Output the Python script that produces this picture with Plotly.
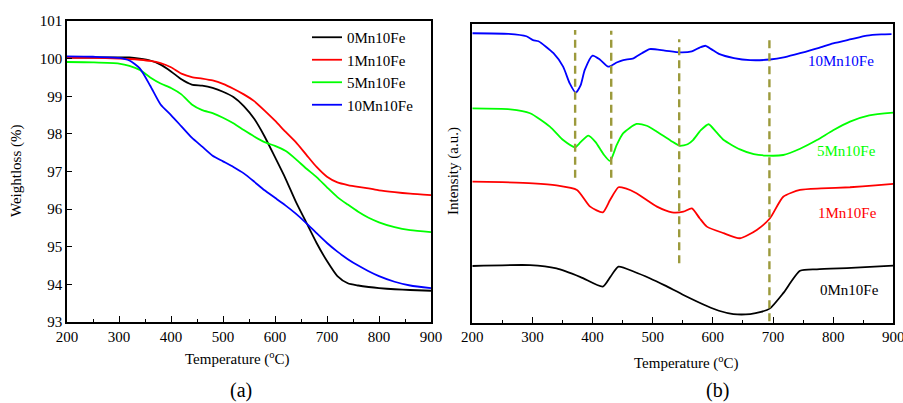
import plotly.graph_objects as go

# ---------------- (a) TG curves: weight (%) vs temperature ----------------
tg_temp = [200, 250, 300, 320, 340, 360, 380, 400, 420, 440, 460, 480, 500, 520, 540,
           560, 580, 600, 620, 640, 660, 680, 700, 720, 740, 760, 780, 800, 830, 860, 900]
tg_0mn = [100.03, 100.03, 100.03, 100.03, 100.0, 99.95, 99.84, 99.66, 99.45, 99.31, 99.28,
          99.22, 99.12, 98.98, 98.74, 98.4, 97.93, 97.38, 96.82, 96.2, 95.65, 95.1, 94.62,
          94.22, 94.03, 93.97, 93.93, 93.9, 93.87, 93.85, 93.83]
tg_1mn = [100.02, 100.02, 100.0, 99.99, 99.97, 99.94, 99.88, 99.77, 99.6, 99.51, 99.47,
          99.42, 99.33, 99.2, 99.05, 98.87, 98.62, 98.35, 98.06, 97.78, 97.45, 97.12, 96.86,
          96.71, 96.64, 96.59, 96.55, 96.5, 96.45, 96.41, 96.37]
tg_5mn = [99.91, 99.9, 99.87, 99.81, 99.7, 99.5, 99.34, 99.22, 99.05, 98.78, 98.63, 98.55,
          98.43, 98.28, 98.1, 97.93, 97.78, 97.68, 97.55, 97.33, 97.08, 96.85, 96.58, 96.32,
          96.12, 95.93, 95.77, 95.65, 95.52, 95.44, 95.39]
tg_10mn = [100.06, 100.05, 100.02, 99.95, 99.74, 99.28, 98.78, 98.5, 98.2, 97.9, 97.66,
           97.42, 97.27, 97.12, 96.95, 96.73, 96.5, 96.3, 96.1, 95.88, 95.63, 95.36, 95.1,
           94.87, 94.67, 94.5, 94.35, 94.22, 94.07, 93.97, 93.9]

# ---------------- (b) DTG-type curves, stacked (a.u.) ----------------
t_10mn = [200, 260, 290, 301, 310, 335, 351, 362, 372, 380, 387, 400, 412, 426, 440, 451,
          468, 482, 495, 520, 545, 565, 578, 588, 598, 610, 635, 662, 695, 720, 745, 775,
          800, 830, 856, 880, 897]
i_10mn = [97.0, 96.8, 96.0, 94.7, 94.3, 90.3, 85.8, 80.2, 77.1, 79.5, 84.7, 89.5, 88.2,
          85.8, 87.2, 88.0, 88.6, 90.3, 91.7, 91.2, 90.6, 90.9, 92.2, 92.8, 91.6, 90.1,
          88.7, 88.0, 88.2, 89.0, 90.3, 92.0, 93.6, 95.0, 96.2, 96.6, 96.7]

t_5mn = [200, 263, 296, 329, 351, 371, 380, 393, 405, 418, 429, 440, 451, 473, 490, 507,
         530, 545, 558, 567, 580, 593, 605, 618, 645, 668, 690, 717, 745, 773, 800, 828,
         860, 900]
i_5mn = [71.8, 71.5, 70.2, 65.7, 61.2, 58.8, 60.5, 62.7, 60.5, 56.5, 54.2, 59.5, 63.5,
         66.6, 66.0, 64.0, 61.0, 59.3, 59.8, 61.2, 64.5, 66.5, 64.0, 61.2, 58.1, 56.5,
         56.0, 56.2, 58.3, 61.2, 64.5, 67.4, 69.5, 70.4]

t_1mn = [200, 250, 301, 340, 374, 396, 417, 429, 443, 455, 473, 507, 532, 551, 565, 578,
         590, 618, 645, 673, 695, 717, 745, 780, 828, 870, 900]
i_1mn = [47.3, 47.1, 46.7, 46.0, 44.5, 38.9, 37.0, 41.1, 45.4, 45.0, 43.4, 38.9, 37.0,
         37.2, 38.3, 35.0, 32.2, 30.0, 28.3, 31.1, 35.0, 42.2, 44.5, 45.0, 45.4, 46.0, 46.5]

t_0mn = [200, 296, 340, 380, 417, 430, 443, 470, 495, 520, 551, 590, 610, 634, 662, 680,
         695, 717, 745, 773, 830, 900]
i_0mn = [19.0, 19.3, 18.2, 15.3, 12.1, 15.5, 18.8, 17.0, 14.9, 12.5, 9.3, 5.6, 4.0, 2.9,
         2.9, 3.6, 4.8, 9.9, 17.4, 17.9, 18.4, 19.1]

# characteristic temperatures marked with dashed guides, and their vertical extent
peak_temps = [371, 431, 544, 694]
guide_top = [98.1, 97.8, 95.0, 95.8]
guide_bottom = [48.6, 48.6, 19.9, 0.5]

names = ["0Mn10Fe", "1Mn10Fe", "5Mn10Fe", "10Mn10Fe"]
colors = ["#000000", "#FF0000", "#00FF00", "#0000FF"]

# label placement for panel (b): (temperature, intensity)
label_t = [880, 876, 874, 872]
label_i = [11.0, 36.8, 57.5, 87.7]

FONT = "Liberation Serif"
LW = 1.8

fig = go.Figure()

for name, col, ys in zip(names, colors, [tg_0mn, tg_1mn, tg_5mn, tg_10mn]):
    fig.add_trace(go.Scatter(x=tg_temp, y=ys, name=name, mode="lines",
                             line=dict(color=col, width=LW, shape="spline", smoothing=0.6),
                             xaxis="x", yaxis="y"))

for col, tx, ys in zip(colors, [t_0mn, t_1mn, t_5mn, t_10mn], [i_0mn, i_1mn, i_5mn, i_10mn]):
    fig.add_trace(go.Scatter(x=tx, y=ys, mode="lines", showlegend=False,
                             line=dict(color=col, width=LW, shape="spline", smoothing=0.6),
                             xaxis="x2", yaxis="y2"))

for t, top, bot in zip(peak_temps, guide_top, guide_bottom):
    fig.add_trace(go.Scatter(x=[t, t], y=[bot, top], mode="lines", showlegend=False,
                             line=dict(color="#9C9A3C", width=2.4, dash="8px,5px"),
                             xaxis="x2", yaxis="y2"))

W, H = 903, 403
ax_common = dict(showgrid=False, zeroline=False, showline=True, linecolor="black",
                 linewidth=1.5, mirror=True, ticklabeloverflow="allow",
                 tickfont=dict(family=FONT, size=15, color="black"))

fig.update_layout(
    width=W, height=H,
    margin=dict(l=0, r=0, t=0, b=0),
    paper_bgcolor="white", plot_bgcolor="white",
    font=dict(family=FONT, size=15, color="black"),
    xaxis=dict(domain=[67 / W, 431 / W], range=[200, 900], dtick=100, ticks="inside",
               ticklen=6, tickwidth=1.3, tickcolor="black", automargin=False,
               minor=dict(dtick=50, ticks="inside", ticklen=3, tickwidth=1.2, tickcolor="black"),
               anchor="y", **ax_common),
    yaxis=dict(domain=[1 - 322 / H, 1 - 21 / H], range=[93, 101], dtick=1, ticks="inside",
               ticklen=5, tickwidth=1.3, tickcolor="black", automargin=False,
               anchor="x", **ax_common),
    xaxis2=dict(domain=[472.3 / W, 893.3 / W], range=[200, 900], dtick=100, ticks="inside",
                ticklen=6, tickwidth=1.3, tickcolor="black", automargin=False,
                minor=dict(dtick=50, ticks="inside", ticklen=3, tickwidth=1.2, tickcolor="black"),
                anchor="y2", **ax_common),
    yaxis2=dict(domain=[1 - 322.7 / H, 1 - 24.3 / H], range=[0, 100], showticklabels=False,
                ticks="", automargin=False, anchor="x2", **ax_common),
    legend=dict(x=307 / W, y=1 - 21 / H, xanchor="left", yanchor="top",
                bgcolor="rgba(0,0,0,0)", borderwidth=0,
                font=dict(family=FONT, size=15, color="black"), tracegroupgap=0),
    showlegend=True,
)

annotations = [
    dict(text="Weightloss (%)", x=16 / W, y=1 - 171 / H, textangle=-90),
    dict(text="Temperature (<sup>o</sup>C)", x=237 / W, y=1 - 358 / H),
    dict(text="(a)", x=241 / W, y=1 - 390 / H, font=dict(family=FONT, size=20)),
    dict(text="Intensity (a.u.)", x=453 / W, y=1 - 171 / H, textangle=-90),
    dict(text="Temperature (<sup>o</sup>C)", x=686 / W, y=1 - 362 / H),
    dict(text="(b)", x=717 / W, y=1 - 390 / H, font=dict(family=FONT, size=20)),
]
for a in annotations:
    a.update(xref="paper", yref="paper", xanchor="center", yanchor="middle", showarrow=False)
    a.setdefault("font", dict(family=FONT, size=15))
for name, col, lt, li in zip(names, colors, label_t, label_i):
    annotations.append(dict(text=name, x=lt, y=li, xref="x2", yref="y2", xanchor="right",
                            yanchor="middle", showarrow=False,
                            font=dict(family=FONT, size=15, color=col)))
fig.update_layout(annotations=annotations)

fig.write_html("out.html")
